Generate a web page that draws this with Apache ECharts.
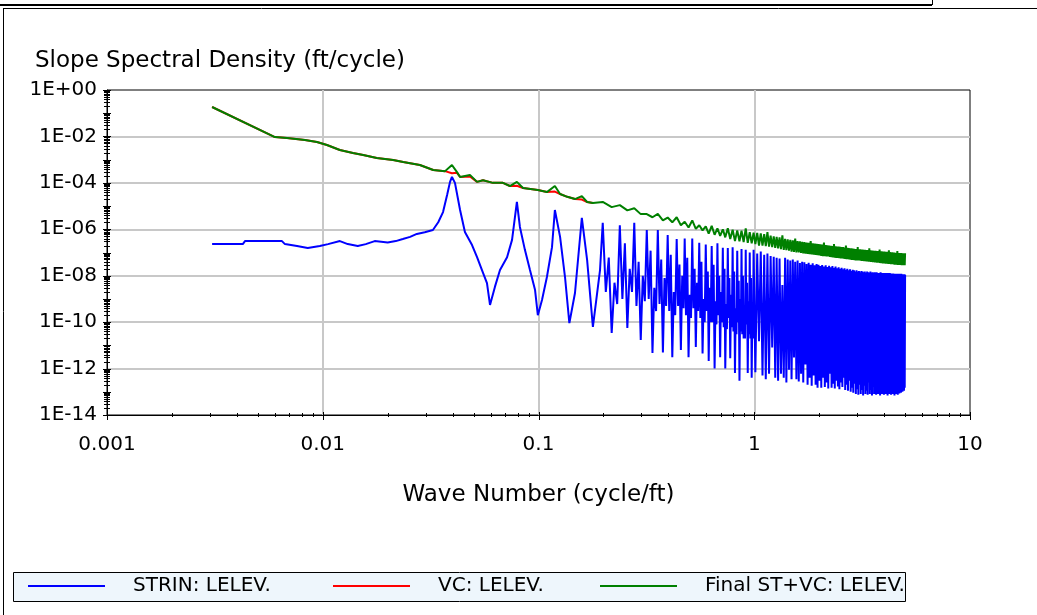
<!DOCTYPE html>
<html><head><meta charset="utf-8">
<script src="https://cdn.jsdelivr.net/npm/echarts@6/dist/echarts.min.js"></script>
<style>html,body{margin:0;padding:0;background:#fff}#c{width:1037px;height:615px}</style>
</head><body><div id="c"></div><script>
// ---------- text ----------
const yAxisTitle = 'Slope Spectral Density (ft/cycle)';
const xAxisTitle = 'Wave Number (cycle/ft)';
const seriesNames = ['STRIN: LELEV.', 'VC: LELEV.', 'Final ST+VC: LELEV.'];
const xTickLabels = ['0.001', '0.01', '0.1', '1', '10'];
const yTickLabels = ['1E-14', '1E-12', '1E-10', '1E-08', '1E-06', '1E-04', '1E-02', '1E+00'];
// axis tick definitions
const xDecades = [0.001, 0.01, 0.1, 1, 10];
const yDecades = [1e-14, 1e-13, 1e-12, 1e-11, 1e-10, 1e-9, 1e-8, 1e-7, 1e-6, 1e-5, 1e-4, 1e-3, 1e-2, 1e-1, 1];
const minorFactors = [2, 3, 4, 5, 6, 7, 8, 9];

// ---------- data ----------
// STRIN, low wave numbers
const blueLowK = [0.00307, 0.00426, 0.00436, 0.00647, 0.00668, 0.0076, 0.00852, 0.00969, 0.01058, 0.01201, 0.01306, 0.01453, 0.01583, 0.01741, 0.02, 0.0218, 0.0235, 0.0254, 0.0273, 0.0297, 0.0324, 0.0343, 0.0361, 0.0377, 0.0389, 0.0397, 0.041, 0.0433, 0.0456, 0.0492, 0.0519, 0.0547, 0.0577, 0.0596, 0.0628, 0.0663, 0.0715, 0.0754, 0.0778, 0.0794, 0.082, 0.0865, 0.0913, 0.0964, 0.0993, 0.1038, 0.1094, 0.1155, 0.1191, 0.1259, 0.1327, 0.139, 0.1476, 0.1588, 0.168, 0.1787, 0.1928];
const blueLowV = [2.3e-7, 2.3e-7, 3.1e-7, 3.1e-7, 2.3e-7, 1.9e-7, 1.55e-7, 1.9e-7, 2.3e-7, 3.1e-7, 2.3e-7, 1.9e-7, 2.3e-7, 3.1e-7, 2.7e-7, 3.1e-7, 3.8e-7, 4.7e-7, 6.3e-7, 7.5e-7, 9.3e-7, 2e-6, 5.5e-6, 3e-5, 1.1e-4, 1.8e-4, 1e-4, 6.8e-6, 7.6e-7, 2.1e-7, 6.3e-8, 1.75e-8, 4.8e-9, 5.5e-10, 3.3e-9, 1.75e-8, 6.3e-8, 3.5e-7, 3.4e-6, 1.5e-5, 1.26e-6, 1.3e-7, 1.75e-8, 2.4e-9, 2e-10, 9e-10, 8.8e-9, 1.7e-7, 6.8e-6, 4.7e-7, 8.8e-9, 9.1e-11, 1.8e-9, 3.1e-6, 4.8e-8, 6.2e-11, 1.75e-8];

// wave-number grid of the dense part (peaks / troughs)
const gridK = [
0.1985, 0.2184, 0.2382, 0.2581, 0.2779, 0.2978, 0.3176, 0.3375, 0.3573, 0.3772,
0.397, 0.417, 0.437, 0.457, 0.476, 0.496, 0.516, 0.536, 0.556, 0.576,
0.596, 0.615, 0.635, 0.655, 0.675, 0.695, 0.715, 0.734, 0.754, 0.774,
0.794, 0.814, 0.834, 0.854, 0.873, 0.893, 0.913, 0.933, 0.953, 0.973,
0.993, 1.012, 1.032, 1.052, 1.072, 1.092, 1.112, 1.131, 1.151, 1.171,
1.191, 1.211, 1.231, 1.251, 1.270, 1.290, 1.310, 1.330, 1.350, 1.370,
1.390, 1.409, 1.429, 1.449, 1.469, 1.489, 1.509, 1.528, 1.548, 1.568,
1.588, 1.608, 1.628, 1.648, 1.667, 1.687, 1.707, 1.727, 1.747, 1.767,
1.787, 1.806, 1.826, 1.846, 1.866, 1.886, 1.906, 1.925, 1.945, 1.965,
1.985, 2.005, 2.025, 2.045, 2.064, 2.084, 2.104, 2.124, 2.144, 2.164,
2.184, 2.203, 2.223, 2.243, 2.263, 2.283, 2.303, 2.322, 2.342, 2.362,
2.382, 2.402, 2.422, 2.442, 2.461, 2.481, 2.501, 2.521, 2.541, 2.561,
2.581, 2.600, 2.620, 2.640, 2.660, 2.680, 2.700, 2.719, 2.739, 2.759,
2.779, 2.799, 2.819, 2.839, 2.858, 2.878, 2.898, 2.918, 2.938, 2.958,
2.978, 2.997, 3.017, 3.037, 3.057, 3.077, 3.097, 3.116, 3.136, 3.156,
3.176, 3.196, 3.216, 3.236, 3.255, 3.275, 3.295, 3.315, 3.335, 3.355,
3.375, 3.394, 3.414, 3.434, 3.454, 3.474, 3.494, 3.513, 3.533, 3.553,
3.573, 3.593, 3.613, 3.633, 3.652, 3.672, 3.692, 3.712, 3.732, 3.752,
3.772, 3.791, 3.811, 3.831, 3.851, 3.871, 3.891, 3.910, 3.930, 3.950,
3.970, 3.990, 4.010, 4.030, 4.049, 4.069, 4.089, 4.109, 4.129, 4.149,
4.169, 4.188, 4.208, 4.228, 4.248, 4.268, 4.288, 4.307, 4.327, 4.347,
4.367, 4.387, 4.407, 4.427, 4.446, 4.466, 4.486, 4.506, 4.526, 4.546,
4.566, 4.585, 4.605, 4.625, 4.645, 4.665, 4.685, 4.704, 4.724, 4.744,
4.764, 4.784, 4.804, 4.824, 4.843, 4.863, 4.883, 4.903, 4.923, 4.943,
4.963, 4.982, 5.002];

// STRIN on the grid
const blueHiV = [
1.9e-6, 3.4e-11, 1.5e-6, 5.6e-11, 1.9e-6, 1.7e-11, 9.3e-7, 4.7e-12, 9.3e-7, 4.9e-12,
5.7e-7, 3.1e-12, 3.8e-7, 6.3e-12, 4e-7, 3.1e-12, 4e-7, 8.5e-12, 2.6e-7, 4.5e-12,
2.2e-7, 2.1e-12, 1.9e-7, 1e-12, 2.5e-7, 3.1e-12, 1.6e-7, 1e-12, 1.55e-7, 2.8e-12,
1.7e-7, 6.5e-13, 1.2e-7, 3e-13, 1.4e-7, 2e-11, 1.3e-7, 6.5e-13, 1e-7, 4e-13,
1.3e-7, 7e-13, 9e-8, 1.5e-11, 1.1e-7, 5e-13, 8e-8, 3.5e-13, 9e-8, 6e-13,
7e-8, 8e-12, 6.5e-8, 4e-13, 6e-8, 3e-13, 5.5e-8, 6e-13, 4e-9, 4e-13,
6e-8, 2.5e-13, 5e-8, 9e-13, 4.5e-8, 3.5e-13, 5e-8, 3e-12, 4e-8, 3.5e-13,
4.5e-8, 2.8e-13, 3.5e-8, 6e-13, 4e-8, 2.5e-13, 3.8e-8, 1.5e-12, 3.2e-8, 2e-13,
3.6e-8, 4e-13, 3e-8, 1.8e-13, 3.4e-8, 5e-13, 2.8e-8, 2e-13, 3.2e-8, 1.5e-13,
3e-8, 3e-13, 2.6e-8, 1.5e-13, 2.9e-8, 4e-13, 2.5e-8, 1.6e-13, 2.8e-8, 2.5e-13,
2.4e-8, 1.4e-13, 2.7e-8, 6e-13, 2.3e-8, 1.5e-13, 2.6e-8, 2.2e-13, 2.2e-8, 1.4e-13,
2.5e-8, 3e-13, 2.1e-8, 1.7e-13, 2.3e-8, 1.3e-13, 2e-8, 2.5e-13, 2.2e-8, 1.6e-13,
1.9e-8, 4e-13, 2.1e-8, 1.2e-13, 1.8e-8, 2e-13, 2e-8, 1.1e-13, 1.7e-8, 3e-13,
1.9e-8, 1e-13, 1.6e-8, 1.5e-13, 1.8e-8, 9e-14, 1.7e-8, 2.2e-13, 1.5e-8, 8e-14,
1.7e-8, 1.3e-13, 1.5e-8, 7.5e-14, 1.6e-8, 2e-13, 1.4e-8, 8e-14, 1.6e-8, 1.2e-13,
1.5e-8, 7e-14, 1.4e-8, 1.8e-13, 1.5e-8, 8e-14, 1.3e-8, 1.1e-13, 1.5e-8, 7.5e-14,
1.4e-8, 2.5e-13, 1.3e-8, 8e-14, 1.5e-8, 1.2e-13, 1.3e-8, 7e-14, 1.4e-8, 1.6e-13,
1.3e-8, 8e-14, 1.4e-8, 1.1e-13, 1.2e-8, 7.5e-14, 1.4e-8, 2e-13, 1.3e-8, 8e-14,
1.3e-8, 1.2e-13, 1.2e-8, 7e-14, 1.4e-8, 1.5e-13, 1.2e-8, 8e-14, 1.3e-8, 1.1e-13,
1.2e-8, 7.5e-14, 1.3e-8, 1.8e-13, 1.2e-8, 8e-14, 1.3e-8, 1.2e-13, 1.2e-8, 7e-14,
1.3e-8, 1.5e-13, 1.15e-8, 8e-14, 1.3e-8, 1.1e-13, 1.2e-8, 7.5e-14, 1.25e-8, 2e-13,
1.15e-8, 8e-14, 1.25e-8, 1.2e-13, 1.15e-8, 7e-14, 1.2e-8, 1.5e-13, 1.15e-8, 8e-14,
1.2e-8, 1.2e-13, 1.1e-8, 7.5e-14, 1.2e-8, 1.6e-13, 1.1e-8, 8.5e-14, 1.2e-8, 1.3e-13,
1.1e-8, 9e-14, 1.2e-8, 1.6e-13, 1.1e-8, 1e-13, 1.15e-8, 1.4e-13, 1.1e-8, 1.1e-13,
1.15e-8, 1.5e-13, 1.1e-8];

// STRIN: secondary wiggles inside the lobes, 0.2 - 1 cycle/ft
const blueMidK = [
0.2051, 0.2117, 0.2250, 0.2316, 0.2448, 0.2514, 0.2647, 0.2713, 0.2845, 0.2911,
0.3044, 0.3110, 0.3242, 0.3308, 0.3441, 0.3507, 0.3639, 0.3705, 0.3838, 0.3904,
0.4036, 0.4102, 0.4236, 0.4302, 0.4436, 0.4502, 0.4636, 0.4702, 0.4826, 0.4892,
0.5026, 0.5092, 0.5226, 0.5292, 0.5426, 0.5492, 0.5626, 0.5692, 0.5826, 0.5892,
0.6026, 0.6092, 0.6216, 0.6282, 0.6416, 0.6482, 0.6616, 0.6682, 0.6816, 0.6882,
0.7016, 0.7082, 0.7216, 0.7282, 0.7406, 0.7472, 0.7606, 0.7672, 0.7806, 0.7872,
0.8006, 0.8072, 0.8206, 0.8272, 0.8406, 0.8472, 0.8606, 0.8672, 0.8796, 0.8862,
0.8996, 0.9062, 0.9196, 0.9262, 0.9396, 0.9462, 0.9596, 0.9662, 0.9796, 0.9862];
const blueMidV = [
2e-9, 6e-8, 5e-9, 6e-10, 1e-9, 2.5e-7, 2e-8, 2e-9, 5e-10, 4e-8,
1e-8, 8e-10, 1e-9, 1.2e-7, 3e-9, 3e-10, 6e-10, 5e-8, 8e-9, 5e-10,
3e-10, 8e-8, 2e-9, 2e-10, 5e-10, 3e-8, 1e-8, 4e-10, 2e-10, 6e-8,
1.5e-9, 1.5e-10, 4e-10, 2e-8, 5e-9, 3e-10, 1.5e-10, 4e-8, 1e-9, 1e-10,
3e-10, 1.5e-8, 3e-9, 1e-10, 1e-10, 3e-8, 8e-10, 8e-11, 2e-10, 1e-8,
2e-9, 1e-10, 6e-11, 2e-8, 6e-10, 5e-11, 1.5e-10, 8e-9, 1.5e-9, 6e-11,
4e-11, 1.5e-8, 4e-10, 3e-11, 1e-10, 6e-9, 1e-9, 4e-11, 3e-11, 1e-8,
3e-10, 2e-11, 8e-11, 5e-9, 8e-10, 3e-11, 2e-11, 8e-9, 2.5e-10, 2e-11];

// Final ST+VC, low wave numbers
const greenLowK = [0.00307, 0.0060, 0.00683, 0.00827, 0.0094, 0.01046, 0.012, 0.0138, 0.0154, 0.0178, 0.0212, 0.0236, 0.0282, 0.0325, 0.0369, 0.0397, 0.0419, 0.0433, 0.0481, 0.0519, 0.0553, 0.0615, 0.0684, 0.0737, 0.0794, 0.0848, 0.0993, 0.1094, 0.1191, 0.1259, 0.136, 0.1476, 0.1588, 0.168, 0.1787];
const greenLowV = [0.185, 0.0094, 0.0086, 0.007, 0.00575, 0.00427, 0.0026, 0.00193, 0.00158, 0.00117, 9.6e-4, 7.9e-4, 5.9e-4, 3.6e-4, 3.2e-4, 5.9e-4, 2.9e-4, 1.8e-4, 2.2e-4, 1.1e-4, 1.3e-4, 1e-4, 1e-4, 7.3e-5, 1.1e-4, 6e-5, 4.9e-5, 4e-5, 7.3e-5, 3.3e-5, 2.5e-5, 2e-5, 2.7e-5, 1.5e-5, 1.35e-5];
// Final ST+VC on the grid
const greenHiV = [
1.5e-5, 9e-6, 1.1e-5, 6.5e-6, 8e-6, 4.5e-6, 4.5e-6, 3.3e-6, 4.6e-6, 2.4e-6,
3.2e-6, 2e-6, 3.3e-6, 1.5e-6, 2.1e-6, 1.2e-6, 2.4e-6, 1.05e-6, 1.5e-6, 9e-7,
1.35e-6, 6.5e-7, 1.4e-6, 5.8e-7, 1.1e-6, 5.2e-7, 1e-6, 4.5e-7, 1.1e-6, 3.8e-7,
9.6e-7, 3.1e-7, 9e-7, 3e-7, 8.6e-7, 2.8e-7, 1.1e-6, 2.6e-7, 7.5e-7, 2.5e-7,
7.2e-7, 2.3e-7, 7e-7, 2e-7, 6.6e-7, 2e-7, 6.2e-7, 1.9e-7, 7.5e-7, 1.8e-7,
5.3e-7, 1.7e-7, 5e-7, 1.6e-7, 4.7e-7, 1.5e-7, 4.5e-7, 1.4e-7, 5.5e-7, 1.3e-7,
3.9e-7, 1.25e-7, 3.7e-7, 1.2e-7, 3.5e-7, 1.1e-7, 3.3e-7, 1.05e-7, 4e-7, 1e-7,
3.1e-7, 1e-7, 3e-7, 9.5e-8, 2.9e-7, 9.2e-8, 2.8e-7, 9e-8, 2.7e-7, 8.7e-8,
2.6e-7, 8.5e-8, 3.1e-7, 8.3e-8, 2.5e-7, 8e-8, 2.4e-7, 7.8e-8, 2.35e-7, 7.6e-8,
2.3e-7, 7.4e-8, 2.25e-7, 7.2e-8, 2.2e-7, 7e-8, 2.7e-7, 6.9e-8, 2.1e-7, 6.8e-8,
2.05e-7, 6.7e-8, 2e-7, 6.5e-8, 1.95e-7, 6.3e-8, 1.9e-7, 6.2e-8, 2.3e-7, 6e-8,
1.85e-7, 5.9e-8, 1.8e-7, 5.8e-8, 1.78e-7, 5.7e-8, 1.75e-7, 5.6e-8, 1.72e-7, 5.5e-8,
1.7e-7, 5.4e-8, 1.65e-7, 5.3e-8, 2e-7, 5.2e-8, 1.6e-7, 5.1e-8, 1.55e-7, 5e-8,
1.52e-7, 4.9e-8, 1.5e-7, 4.8e-8, 1.48e-7, 4.8e-8, 1.45e-7, 4.7e-8, 1.42e-7, 4.6e-8,
1.4e-7, 4.6e-8, 1.7e-7, 4.5e-8, 1.38e-7, 4.5e-8, 1.36e-7, 4.4e-8, 1.35e-7, 4.3e-8,
1.33e-7, 4.3e-8, 1.32e-7, 4.2e-8, 1.3e-7, 4.2e-8, 1.28e-7, 4.1e-8, 1.27e-7, 4.1e-8,
1.25e-7, 4e-8, 1.5e-7, 4e-8, 1.23e-7, 3.9e-8, 1.22e-7, 3.9e-8, 1.2e-7, 3.8e-8,
1.19e-7, 3.8e-8, 1.18e-7, 3.7e-8, 1.17e-7, 3.7e-8, 1.16e-7, 3.6e-8, 1.15e-7, 3.6e-8,
1.14e-7, 3.6e-8, 1.35e-7, 3.5e-8, 1.13e-7, 3.5e-8, 1.12e-7, 3.5e-8, 1.11e-7, 3.4e-8,
1.1e-7, 3.4e-8, 1.09e-7, 3.4e-8, 1.08e-7, 3.3e-8, 1.07e-7, 3.3e-8, 1.06e-7, 3.3e-8,
1.05e-7, 3.2e-8, 1.25e-7, 3.2e-8, 1.04e-7, 3.2e-8, 1.03e-7, 3.1e-8, 1.02e-7, 3.1e-8,
1.01e-7, 3.1e-8, 1e-7, 3.1e-8, 9.9e-8, 3e-8, 9.8e-8, 3e-8, 9.8e-8, 3e-8,
9.7e-8, 3e-8, 1.15e-7, 2.9e-8, 9.6e-8, 2.9e-8, 9.5e-8, 2.9e-8, 9.5e-8, 2.9e-8,
9.4e-8, 2.9e-8, 9.4e-8, 2.85e-8, 9.3e-8, 2.85e-8, 9.3e-8, 2.8e-8, 9.2e-8, 2.8e-8,
9.2e-8, 2.8e-8, 9.2e-8];

// VC (mostly hidden under Final ST+VC)
const redK = [0.00307, 0.0060, 0.00683, 0.00827, 0.0094, 0.01046, 0.012, 0.0138, 0.0154, 0.0178, 0.0212, 0.0236, 0.0282, 0.0325, 0.0369, 0.0397, 0.0419, 0.0433, 0.0481, 0.0519, 0.0553, 0.0615, 0.0684, 0.0737, 0.0794, 0.0848, 0.0993, 0.1094, 0.1191, 0.1259, 0.136, 0.1476, 0.1588, 0.168, 0.1787];
const redV = [0.185, 0.0094, 0.0086, 0.007, 0.00575, 0.00427, 0.0026, 0.00193, 0.00158, 0.00117, 9.6e-4, 7.9e-4, 5.9e-4, 3.6e-4, 3.2e-4, 2.6e-4, 2.7e-4, 1.8e-4, 1.9e-4, 1.1e-4, 1.3e-4, 1e-4, 1e-4, 7.3e-5, 7.5e-5, 6e-5, 4.9e-5, 4e-5, 4.2e-5, 3.3e-5, 2.5e-5, 2e-5, 1.9e-5, 1.5e-5, 1.35e-5];

// ---------- build ----------
function pairs(k, v) { return k.map((x, i) => [x, v[i]]); }
const byK = (a, b) => a[0] - b[0];
const blueData = pairs(blueLowK, blueLowV).concat(pairs(gridK, blueHiV), pairs(blueMidK, blueMidV)).sort(byK);
const greenData = pairs(greenLowK, greenLowV).concat(pairs(gridK, greenHiV));
const redData = pairs(redK, redV);

const X_MIN = xDecades[0], X_MAX = xDecades[xDecades.length - 1];
const Y_MIN = yDecades[0], Y_MAX = yDecades[yDecades.length - 1];
// tick marks: [x, y, kind]  kind 0 = x major, 1 = x minor, 2 = y decade, 3 = y minor
const tickData = [];
xDecades.forEach((d, i) => {
  tickData.push([d, Y_MIN, 0]);
  if (i < xDecades.length - 1) minorFactors.forEach(f => tickData.push([d * f, Y_MIN, 1]));
});
yDecades.forEach((d, i) => {
  tickData.push([X_MIN, d, 2]);
  if (i < yDecades.length - 1) minorFactors.forEach(f => tickData.push([X_MIN, d * f, 3]));
});

const FONT = 'DejaVu Sans';
const chart = echarts.init(document.getElementById('c'), null, { renderer: 'canvas' });
function legendAt(left, name) {
  return {
    data: [name], left: left, top: 576, padding: 0, itemWidth: 77, itemHeight: 2,
    icon: 'rect',
    textStyle: { fontFamily: FONT, fontSize: 20, color: '#000', padding: [0, 0, 0, 23] },
    selectedMode: false
  };
}
const option = {
  animation: false,
  backgroundColor: '#fff',
  title: {
    text: yAxisTitle, left: 35, top: 50, padding: 0,
    textStyle: { fontFamily: FONT, fontSize: 23, fontWeight: 'normal', color: '#000' }
  },
  grid: { left: 107, right: 67, top: 90, bottom: 200, show: true, borderColor: '#000', borderWidth: 1, backgroundColor: 'rgba(0,0,0,0)' },
  xAxis: {
    type: 'log', logBase: 10, min: X_MIN, max: X_MAX,
    name: xAxisTitle, nameLocation: 'middle', nameGap: 69,
    nameTextStyle: { fontFamily: FONT, fontSize: 23, color: '#000' },
    axisLine: { onZero: false, lineStyle: { color: '#000', width: 1 } },
    axisTick: { show: false },
    minorTick: { show: false },
    axisLabel: { margin: 20, fontFamily: FONT, fontSize: 20, color: '#000',
      formatter: v => xTickLabels[Math.round(Math.log10(v)) + 3] },
    splitLine: { show: true, showMinLine: false, showMaxLine: false, lineStyle: { color: '#c8c8c8', width: 2 } }
  },
  yAxis: {
    type: 'log', logBase: 10, min: Y_MIN, max: Y_MAX, interval: 2, splitNumber: 7,
    axisLine: { onZero: false, lineStyle: { color: '#000', width: 1 } },
    axisTick: { show: false },
    minorTick: { show: false },
    axisLabel: { margin: 10, fontFamily: FONT, fontSize: 20, color: '#000', padding: [4, 0, 0, 0],
      formatter: v => yTickLabels[Math.round((Math.log10(v) + 14) / 2)] },
    splitLine: { show: true, showMinLine: false, showMaxLine: false, lineStyle: { color: '#c8c8c8', width: 2 } }
  },
  legend: [legendAt(28, seriesNames[0]), legendAt(333, seriesNames[1]), legendAt(600, seriesNames[2])],
  graphic: [
    { type: 'line', shape: { x1: 0, y1: 5, x2: 932, y2: 5 }, style: { stroke: '#000', lineWidth: 2 }, silent: true },
    { type: 'line', shape: { x1: 932.5, y1: 0, x2: 932.5, y2: 5 }, style: { stroke: '#000', lineWidth: 1 }, silent: true },
    { type: 'line', shape: { x1: 3, y1: 8.5, x2: 1037, y2: 8.5 }, style: { stroke: '#000', lineWidth: 1 }, silent: true },
    { type: 'line', shape: { x1: 3.5, y1: 8, x2: 3.5, y2: 615 }, style: { stroke: '#000', lineWidth: 1 }, silent: true },
    { type: 'rect', shape: { x: 13.5, y: 572.5, width: 892, height: 29 }, style: { fill: '#eef6fc', stroke: '#000', lineWidth: 1 }, silent: true, z: 0 }
  ],
  series: [
    { name: seriesNames[0], type: 'line', data: blueData, symbol: 'none', lineStyle: { color: '#0000ff', width: 2 }, itemStyle: { color: '#0000ff' }, z: 2 },
    { name: seriesNames[1], type: 'line', data: redData, symbol: 'none', lineStyle: { color: '#ff0000', width: 2 }, itemStyle: { color: '#ff0000' }, z: 2 },
    { name: seriesNames[2], type: 'line', data: greenData, symbol: 'none', lineStyle: { color: '#008000', width: 2 }, itemStyle: { color: '#008000' }, z: 2 },
    { name: 'ticks', type: 'custom', data: tickData, clip: false, silent: true, z: 5,
      renderItem: function (params, api) {
        const kind = api.value(2);
        const p = api.coord([api.value(0), api.value(1)]);
        let shape;
        if (kind < 2) {
          const x = Math.round(p[0]) + 0.5;
          const up = kind === 0 ? 3 : 2, dn = kind === 0 ? 5 : 2;
          shape = { x1: x, y1: p[1] - up, x2: x, y2: p[1] + dn };
        } else {
          const y = Math.round(p[1]) + 0.5;
          const h = kind === 2 ? 4 : 3;
          shape = { x1: p[0] - h, y1: y, x2: p[0] + h, y2: y };
        }
        return { type: 'line', shape: shape, style: { stroke: '#000', lineWidth: 1 } };
      }
    }
  ]
};
chart.setOption(option);
</script></body></html>
